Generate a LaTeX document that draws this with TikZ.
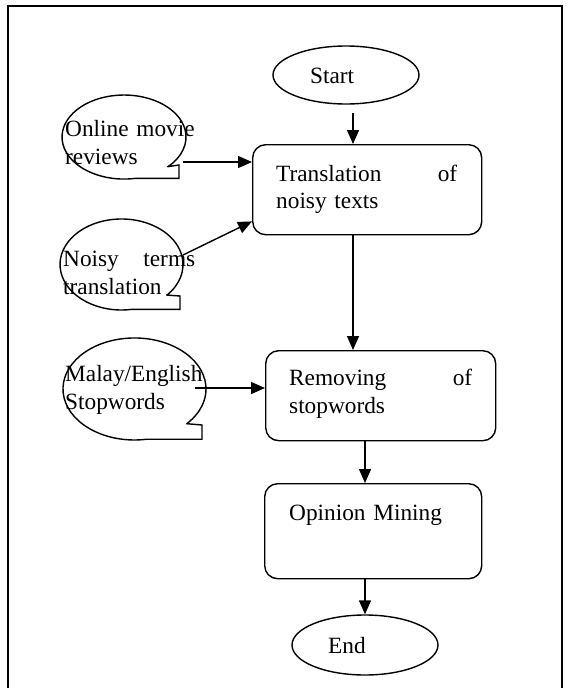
\documentclass[tikz,border=0pt]{standalone}
\usepackage{fontspec}
\setmainfont{Liberation Serif}
\usetikzlibrary{arrows.meta,shapes.geometric}
\begin{document}
\begin{tikzpicture}[x=1pt,y=-1pt,
  frame/.style={line width=2pt},
  procbox/.style={draw, line width=1.4pt, rounded corners=13pt, anchor=north west, inner sep=0pt},
  term/.style={draw, ellipse, line width=1.4pt, inner sep=0pt},
  txt/.style={anchor=base west, inner sep=0pt, font=\fontsize{23.3}{27.5}\selectfont, align=left},
  flow/.style={line width=1.4pt, -{Triangle[length=14pt,width=12pt]}},
  callout/.style={line width=1.4pt, line join=miter}]
\useasboundingbox (0,0) rectangle (570,688);
% frame
\draw[frame] (8,688) -- (8,6) -- (562,6) -- (562,688);

% callout outlines
\draw[callout] (168,166.6) -- (179,165) -- (179,178.4) -- (134.8,178.4)
  arc[start angle=80, end angle=404.8, x radius=62, y radius=42] -- cycle;
\draw[callout] (167,295.1) -- (180,296) -- (180,309.3) -- (132.2,309.3)
  arc[start angle=80, end angle=402.3, x radius=61.5, y radius=45.5] -- cycle;
\draw[callout] (186.9,423.7) -- (202,425) -- (202,439.2) -- (146.9,439.2)
  arc[start angle=80, end angle=402.8, x radius=71.5, y radius=51] -- cycle;

% terminals
\node[term, minimum width=146pt, minimum height=58pt] (start) at (346,75) {};
\node[term, minimum width=146pt, minimum height=60pt] (endn) at (365,645) {};

% process boxes
\node[procbox, minimum width=229pt, minimum height=90pt] (trans) at (252,144) {};
\node[procbox, minimum width=230pt, minimum height=90pt] (rem) at (265,350) {};
\node[procbox, minimum width=217pt, minimum height=95pt] (opin) at (264,483) {};

% texts
\node[txt] (starttxt) at (310,83) {Start};
\node[txt] (endtxt) at (328,653) {End};
\node[txt, text width=181pt] (transtxt) at (276,181) {Translation\hfill of\\noisy texts};
\node[txt, text width=183pt] (remtxt) at (289,385.7) {Removing\hfill of\\stopwords};
\node[txt, text width=170pt] (opintxt) at (289,520.7) {Opinion Mining};
\node[txt, text width=135pt] (online) at (65,136.7) {Online movie\\reviews};
\node[txt, text width=132pt] (noisy) at (63,266.7) {Noisy\hfill terms\\translation};
\node[txt, text width=145pt] (malay) at (65,381.7) {Malay/English\\Stopwords};

% connectors
\coordinate (s1) at ([xshift=7pt,yshift=-8pt]start.south);
\draw[flow] (s1) -- (s1 |- trans.north);
\draw[flow] (trans.south -| s1) -- (rem.north -| s1);
\draw[flow] (rem.south -| endn) -- (opin.north -| endn);
\draw[flow] (opin.south -| endn) -- (endn.north);

\coordinate (o1) at (183,162);
\draw[flow] (o1) -- (o1 -| trans.west);
\coordinate (n1) at (183,255);
\draw[flow] (n1) -- ([yshift=14pt]trans.south west);
\coordinate (m1) at (195,388);
\draw[flow] (m1) -- (m1 -| rem.west);
\end{tikzpicture}
\end{document}
